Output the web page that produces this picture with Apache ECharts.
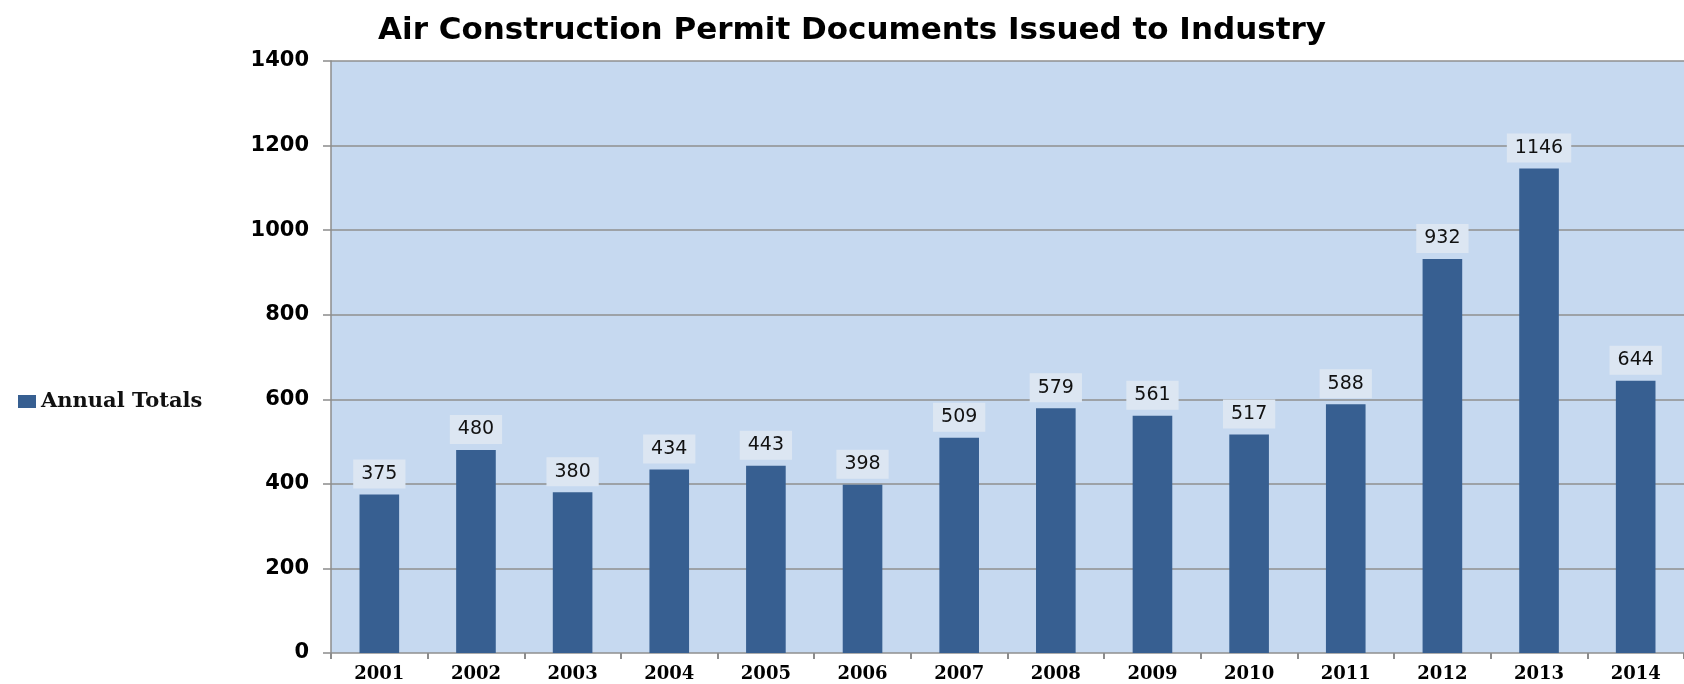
<!DOCTYPE html>
<html>
<head>
<meta charset="utf-8">
<title>Air Construction Permit Documents</title>
<script src="https://cdn.jsdelivr.net/npm/echarts@6/dist/echarts.min.js"></script>
<style>
  html, body { margin: 0; padding: 0; background: #fff; }
  #chart { width: 1684px; height: 684px; }
</style>
</head>
<body>
<div id="chart"></div>
<script>
// years and annual totals
var years = ['2001', '2002', '2003', '2004', '2005', '2006', '2007',
             '2008', '2009', '2010', '2011', '2012', '2013', '2014'];
var totals = [375, 480, 380, 434, 443, 398, 509, 579, 561, 517, 588, 932, 1146, 644];

var chart = echarts.init(document.getElementById('chart'));

chart.setOption({
  backgroundColor: '#fff',
  animation: false,
  title: {
    text: 'Air Construction Permit Documents Issued to Industry',
    left: 847,
    textAlign: 'center',
    top: 10,
    textStyle: {
      fontFamily: 'DejaVu Sans',
      fontWeight: 'bold',
      fontSize: 31,
      color: '#000'
    }
  },
  legend: {
    left: 13,
    top: 386,
    orient: 'vertical',
    icon: 'rect',
    itemWidth: 18,
    itemHeight: 13,
    itemGap: 6,
    textStyle: {
      fontFamily: 'DejaVu Serif',
      fontWeight: 'bold',
      fontSize: 21,
      color: '#111'
    },
    data: ['Annual Totals']
  },
  // plot runs past the right edge, as in the picture
  grid: {
    left: 331,
    right: -10,
    top: 61,
    bottom: 31,
    show: true,
    backgroundColor: '#c6d9f0',
    borderWidth: 0
  },
  xAxis: {
    type: 'category',
    data: years,
    axisLine: { show: false },
    axisTick: {
      show: true,
      length: 6,
      lineStyle: { color: '#8c8c8c', width: 2 }
    },
    axisLabel: {
      margin: 12,
      fontFamily: 'DejaVu Serif',
      fontWeight: 'bold',
      fontSize: 18,
      color: '#000'
    }
  },
  yAxis: {
    type: 'value',
    min: 0,
    max: 1400,
    interval: 200,
    axisLine: { show: true, lineStyle: { color: '#8c8c8c', width: 1.5 } },
    axisTick: { show: true, length: 8, lineStyle: { color: '#8c8c8c', width: 1.5 } },
    splitLine: { show: true, lineStyle: { color: '#8f8f8f', width: 1.5 } },
    axisLabel: {
      margin: 22,
      fontFamily: 'DejaVu Sans',
      fontWeight: 'bold',
      fontSize: 21,
      color: '#000',
      formatter: function (v) { return String(v); }
    }
  },
  series: [{
    name: 'Annual Totals',
    type: 'bar',
    data: totals,
    barWidth: '41%',
    itemStyle: { color: '#375f91' },
    label: {
      show: true,
      position: 'top',
      distance: 6,
      fontFamily: 'DejaVu Sans',
      fontSize: 19,
      color: '#111',
      backgroundColor: '#dce6f2',
      padding: [5, 8, 5, 8]
    }
  }]
});
</script>
</body>
</html>
